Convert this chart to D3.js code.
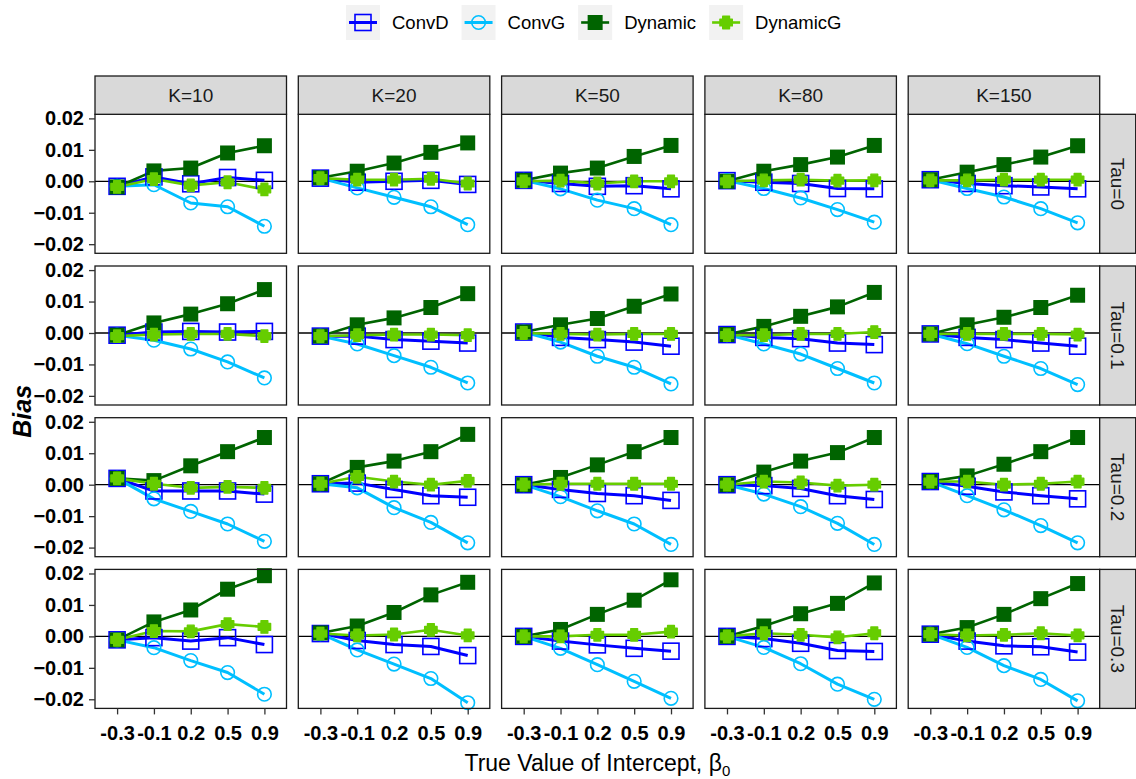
<!DOCTYPE html>
<html>
<head>
<meta charset="utf-8">
<script src="https://cdn.jsdelivr.net/npm/d3@7"></script>
<style>
  html, body { margin: 0; padding: 0; background: #ffffff; }
  svg { display: block; font-family: "Liberation Sans", Arial, sans-serif; }
</style>
</head>
<body>
<svg id="chart" width="1136" height="779"></svg>
<script>
// Facet levels and x categories
const kLevels = ["K=10", "K=20", "K=50", "K=80", "K=150"];
const tauLevels = ["Tau=0", "Tau=0.1", "Tau=0.2", "Tau=0.3"];
const betaLabels = ["-0.3", "-0.1", "0.2", "0.5", "0.9"];
const yTicks = [-0.02, -0.01, 0, 0.01, 0.02];
const seriesNames = ["ConvD", "ConvG", "Dynamic", "DynamicG"];

// Bias per method: [tau][K][beta]
const convD = [
  [[-0.0016, 0.0014, -0.0008, 0.0012, 0.0003],
   [0.0010, -0.0003, 0.0000, 0.0003, -0.0010],
   [0.0003, -0.0007, -0.0016, -0.0014, -0.0024],
   [0.0002, -0.0003, -0.0007, -0.0023, -0.0024],
   [0.0005, -0.0007, -0.0014, -0.0018, -0.0024]],
  [[-0.0007, 0.0003, 0.0005, 0.0003, 0.0005],
   [-0.0010, -0.0010, -0.0021, -0.0026, -0.0032],
   [0.0003, -0.0014, -0.0021, -0.0029, -0.0042],
   [-0.0005, -0.0014, -0.0018, -0.0032, -0.0037],
   [-0.0003, -0.0014, -0.0021, -0.0032, -0.0042]],
  [[0.0020, -0.0020, -0.0020, -0.0020, -0.0030],
   [0.0003, 0.0005, -0.0015, -0.0035, -0.0040],
   [0.0000, -0.0015, -0.0028, -0.0035, -0.0050],
   [0.0000, -0.0003, -0.0012, -0.0035, -0.0047],
   [0.0010, -0.0005, -0.0023, -0.0035, -0.0045]],
  [[-0.0011, -0.0004, -0.0015, -0.0004, -0.0026],
   [0.0009, -0.0013, -0.0026, -0.0032, -0.0061],
   [0.0000, -0.0015, -0.0027, -0.0038, -0.0047],
   [0.0000, -0.0007, -0.0022, -0.0045, -0.0048],
   [0.0007, -0.0015, -0.0030, -0.0033, -0.0050]]
];

const convG = [
  [[-0.0016, -0.0011, -0.0069, -0.0081, -0.0143],
   [0.0010, -0.0021, -0.0051, -0.0081, -0.0138],
   [0.0003, -0.0024, -0.0060, -0.0087, -0.0138],
   [0.0002, -0.0023, -0.0053, -0.0090, -0.0130],
   [0.0005, -0.0023, -0.0050, -0.0087, -0.0132]],
  [[-0.0007, -0.0023, -0.0051, -0.0092, -0.0143],
   [-0.0010, -0.0035, -0.0072, -0.0109, -0.0159],
   [0.0003, -0.0029, -0.0074, -0.0109, -0.0162],
   [-0.0005, -0.0035, -0.0067, -0.0113, -0.0159],
   [-0.0003, -0.0034, -0.0074, -0.0113, -0.0164]],
  [[0.0020, -0.0045, -0.0085, -0.0125, -0.0180],
   [0.0003, -0.0010, -0.0073, -0.0120, -0.0185],
   [0.0000, -0.0038, -0.0083, -0.0125, -0.0190],
   [0.0000, -0.0030, -0.0070, -0.0123, -0.0190],
   [0.0010, -0.0035, -0.0080, -0.0130, -0.0185]],
  [[-0.0011, -0.0036, -0.0077, -0.0115, -0.0184],
   [0.0009, -0.0043, -0.0088, -0.0134, -0.0211],
   [0.0000, -0.0038, -0.0090, -0.0143, -0.0197],
   [0.0000, -0.0035, -0.0087, -0.0152, -0.0200],
   [0.0007, -0.0035, -0.0093, -0.0137, -0.0205]]
];

const dynamic = [
  [[-0.0018, 0.0033, 0.0042, 0.0090, 0.0113],
   [0.0011, 0.0032, 0.0058, 0.0092, 0.0122],
   [0.0003, 0.0026, 0.0042, 0.0079, 0.0114],
   [0.0000, 0.0032, 0.0053, 0.0077, 0.0114],
   [0.0005, 0.0029, 0.0053, 0.0077, 0.0113]],
  [[-0.0007, 0.0032, 0.0060, 0.0093, 0.0138],
   [-0.0010, 0.0026, 0.0048, 0.0081, 0.0125],
   [0.0003, 0.0026, 0.0046, 0.0085, 0.0124],
   [-0.0005, 0.0021, 0.0053, 0.0083, 0.0129],
   [-0.0003, 0.0026, 0.0050, 0.0081, 0.0120]],
  [[0.0020, 0.0013, 0.0060, 0.0105, 0.0150],
   [0.0003, 0.0055, 0.0075, 0.0105, 0.0160],
   [0.0000, 0.0023, 0.0063, 0.0105, 0.0150],
   [0.0000, 0.0040, 0.0075, 0.0102, 0.0150],
   [0.0010, 0.0028, 0.0065, 0.0105, 0.0150]],
  [[-0.0011, 0.0046, 0.0084, 0.0150, 0.0193],
   [0.0011, 0.0033, 0.0076, 0.0132, 0.0172],
   [0.0000, 0.0022, 0.0070, 0.0115, 0.0180],
   [0.0000, 0.0033, 0.0072, 0.0105, 0.0170],
   [0.0007, 0.0028, 0.0070, 0.0120, 0.0168]]
];

const dynamicG = [
  [[-0.0018, 0.0007, -0.0013, -0.0003, -0.0026],
   [0.0010, 0.0005, 0.0005, 0.0008, -0.0007],
   [0.0000, 0.0002, -0.0007, 0.0000, 0.0000],
   [0.0000, 0.0003, 0.0005, 0.0002, 0.0003],
   [0.0003, 0.0003, 0.0005, 0.0005, 0.0005]],
  [[-0.0010, -0.0005, -0.0003, -0.0003, -0.0010],
   [-0.0010, -0.0007, -0.0005, -0.0005, -0.0007],
   [0.0000, -0.0003, -0.0005, -0.0003, -0.0003],
   [-0.0007, -0.0007, -0.0003, -0.0003, 0.0003],
   [-0.0003, -0.0003, -0.0003, -0.0003, -0.0005]],
  [[0.0020, 0.0003, -0.0010, -0.0007, -0.0010],
   [0.0003, 0.0025, 0.0010, 0.0000, 0.0012],
   [0.0000, 0.0003, 0.0003, 0.0003, 0.0003],
   [0.0000, 0.0010, 0.0007, -0.0003, 0.0000],
   [0.0010, 0.0010, 0.0000, 0.0003, 0.0010]],
  [[-0.0011, 0.0017, 0.0016, 0.0039, 0.0030],
   [0.0009, 0.0003, 0.0006, 0.0021, 0.0003],
   [0.0000, 0.0000, 0.0005, 0.0005, 0.0015],
   [0.0000, 0.0010, 0.0005, -0.0003, 0.0010],
   [0.0007, 0.0003, 0.0005, 0.0010, 0.0003]]
];

// Series appearance
const seriesData = [convD, convG, dynamic, dynamicG];
const colors = ["#0000FF", "#00BFFF", "#006400", "#66CD00"];
const lineWidths = [3, 3, 2.6, 2.6];

// Layout
const svg = d3.select("#chart");
const gridLeft = 95, gridTop = 114.3;
const panelW = 191.5, panelH = 139;
const stepX = 203.3, stepY = 151.7;
const stripH = 38.3, stripW = 36;

const x = d3.scalePoint().domain(betaLabels).range([0, panelW]).padding(0.6);
const y = d3.scaleLinear().domain([-0.0229, 0.0213]).range([panelH, 0]);

// Thick plus shape used for DynamicG
const plusPath = (a, t) =>
  `M${-t},${-a}H${t}V${-t}H${a}V${t}H${t}V${a}H${-t}V${t}H${-a}V${-t}H${-t}Z`;

function drawMarker(sel, s, color) {
  if (s === 0) {
    sel.append("rect").attr("x", -8).attr("y", -8).attr("width", 16).attr("height", 16)
      .attr("fill", "none").attr("stroke", color).attr("stroke-width", 1.6);
  } else if (s === 1) {
    sel.append("circle").attr("r", 6.8)
      .attr("fill", "none").attr("stroke", color).attr("stroke-width", 1.6);
  } else if (s === 2) {
    sel.append("rect").attr("x", -7.5).attr("y", -7.5).attr("width", 15).attr("height", 15)
      .attr("fill", color);
  } else {
    sel.append("path").attr("d", plusPath(6.2, 3.4))
      .attr("fill", color).attr("stroke", color).attr("stroke-width", 1.4)
      .attr("stroke-linejoin", "round");
  }
}

const line = d3.line().x((d, i) => x(betaLabels[i])).y(d => y(d));

tauLevels.forEach((tau, r) => {
  kLevels.forEach((k, c) => {
    const g = svg.append("g")
      .attr("transform", `translate(${gridLeft + c * stepX},${gridTop + r * stepY})`);

    g.append("rect").attr("width", panelW).attr("height", panelH).attr("fill", "#ffffff");

    // reference line at zero bias
    g.append("line").attr("x1", 0).attr("x2", panelW)
      .attr("y1", y(0)).attr("y2", y(0))
      .attr("stroke", "#000000").attr("stroke-width", 1.3);

    seriesData.forEach((arr, s) => {
      g.append("path").datum(arr[r][c]).attr("d", line)
        .attr("fill", "none").attr("stroke", colors[s])
        .attr("stroke-width", lineWidths[s]).attr("stroke-linejoin", "round");
    });
    seriesData.forEach((arr, s) => {
      arr[r][c].forEach((v, i) => {
        const m = g.append("g").attr("transform", `translate(${x(betaLabels[i])},${y(v)})`);
        drawMarker(m, s, colors[s]);
      });
    });

    g.append("rect").attr("width", panelW).attr("height", panelH)
      .attr("fill", "none").attr("stroke", "#1a1a1a").attr("stroke-width", 1.3);

    // top strips
    if (r === 0) {
      const sg = g.append("g").attr("transform", `translate(0,${-stripH})`);
      sg.append("rect").attr("width", panelW).attr("height", stripH)
        .attr("fill", "#d9d9d9").attr("stroke", "#1a1a1a").attr("stroke-width", 1.3);
      sg.append("text").attr("x", panelW / 2).attr("y", stripH / 2)
        .attr("text-anchor", "middle").attr("dominant-baseline", "central")
        .attr("font-size", 19).attr("fill", "#1a1a1a").text(k);
    }
    // right strips
    if (c === kLevels.length - 1) {
      const sg = g.append("g").attr("transform", `translate(${panelW},0)`);
      sg.append("rect").attr("width", stripW).attr("height", panelH)
        .attr("fill", "#d9d9d9").attr("stroke", "#1a1a1a").attr("stroke-width", 1.3);
      sg.append("text")
        .attr("transform", `translate(${stripW / 2},${panelH / 2}) rotate(90)`)
        .attr("text-anchor", "middle").attr("dominant-baseline", "central")
        .attr("font-size", 19).attr("fill", "#1a1a1a").text(tau);
    }
    // y axis on first column
    if (c === 0) {
      const ax = g.append("g").call(d3.axisLeft(y).tickValues(yTicks)
        .tickFormat(d3.format(".2f")).tickSize(6).tickPadding(5));
      ax.select(".domain").remove();
      ax.selectAll("line").attr("stroke", "#333333").attr("stroke-width", 1.3);
      ax.selectAll("text").attr("font-size", 20).attr("font-weight", "bold")
        .attr("fill", "#000000").attr("font-family", "Liberation Sans, Arial, sans-serif");
    }
    // x axis on bottom row
    if (r === tauLevels.length - 1) {
      const ax = g.append("g").attr("transform", `translate(0,${panelH})`)
        .call(d3.axisBottom(x).tickSize(6).tickPadding(11));
      ax.select(".domain").remove();
      ax.selectAll("line").attr("stroke", "#333333").attr("stroke-width", 1.3);
      ax.selectAll("text").attr("font-size", 20).attr("font-weight", "bold")
        .attr("fill", "#000000").attr("font-family", "Liberation Sans, Arial, sans-serif");
    }
  });
});

// Axis titles
const xTitle = svg.append("text")
  .attr("x", gridLeft + (4 * stepX + panelW) / 2).attr("y", 771)
  .attr("text-anchor", "middle").attr("font-size", 23).attr("fill", "#000000");
xTitle.append("tspan").text("True Value of Intercept, β");
xTitle.append("tspan").attr("font-size", 15).attr("dy", 5).text("0");

svg.append("text")
  .attr("transform", `translate(31,${gridTop + (3 * stepY + panelH) / 2}) rotate(-90)`)
  .attr("text-anchor", "middle").attr("font-size", 25)
  .attr("font-weight", "bold").attr("font-style", "italic").attr("fill", "#000000")
  .text("Bias");

// Legend
const legend = svg.append("g").attr("transform", "translate(346,5)");
let lx = 0;
seriesNames.forEach((name, s) => {
  const item = legend.append("g").attr("transform", `translate(${lx},0)`);
  item.append("rect").attr("width", 34).attr("height", 35).attr("fill", "#f2f2f2");
  item.append("line").attr("x1", 3).attr("x2", 31).attr("y1", 17.5).attr("y2", 17.5)
    .attr("stroke", colors[s]).attr("stroke-width", lineWidths[s]);
  drawMarker(item.append("g").attr("transform", "translate(17,17.5)"), s, colors[s]);
  const t = item.append("text").attr("x", 46).attr("y", 17.5)
    .attr("dominant-baseline", "central").attr("font-size", 18.5).attr("fill", "#000000")
    .text(name);
  lx += 46 + t.node().getComputedTextLength() + 13;
});
</script>
</body>
</html>
